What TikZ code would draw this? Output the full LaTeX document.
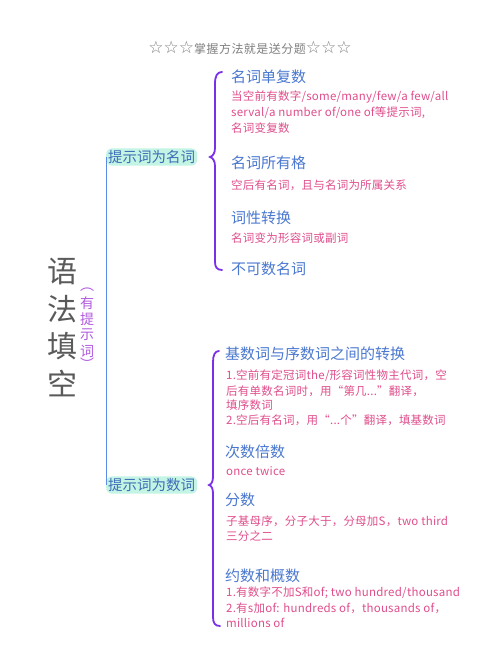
\documentclass[tikz,border=0pt]{standalone}
\usepackage{fontspec}
\setmainfont{Noto Sans CJK SC}
\newfontfamily\pinkfont[LetterSpace=2]{Noto Sans CJK SC}
\newfontfamily\titlefont[LetterSpace=4]{Noto Sans CJK SC}
\newfontfamily\starfont{DejaVu Sans}
\definecolor{headblue}{HTML}{4A78D0}
\definecolor{pinktxt}{HTML}{E04E8C}
\definecolor{branchblue}{HTML}{3C6CB8}
\definecolor{mint}{HTML}{C4F5E4}
\definecolor{bracepurple}{HTML}{7A30E8}
\definecolor{linblue}{HTML}{5B8DE6}
\definecolor{titlegray}{HTML}{5A5A5A}
\definecolor{subpurple}{HTML}{B25BE0}
\tikzset{
  toptitle/.style={font=\titlefont\fontsize{12}{14}\selectfont, text=gray, inner sep=0pt},
  maintitle/.style={font=\fontsize{30}{32}\selectfont, text=titlegray, inner sep=0pt},
  subtitle/.style={font=\fontsize{14}{15}\selectfont, text=subpurple, inner sep=0pt},
  branchlabel/.style={font=\fontsize{14.5}{16}\selectfont, text=branchblue, fill=mint, rounded corners=6pt, inner xsep=2pt, inner ysep=2pt, anchor=west},
  itemhead/.style={font=\fontsize{15}{17}\selectfont, text=headblue, inner sep=0pt, anchor=west},
  itemtext/.style={font=\pinkfont\fontsize{11.5}{13}\selectfont, text=pinktxt, inner sep=0pt, anchor=west},
  bracepath/.style={draw=bracepurple, line width=1.8pt, line cap=round},
  mainline/.style={draw=linblue, line width=1pt}
}
\begin{document}
\begin{tikzpicture}[x=1pt,y=-1pt]
\useasboundingbox[fill=white] (0,0) rectangle (500,652);
\node[toptitle] (title) at (250,48) {{\starfont\fontsize{17}{18}\selectfont ☆☆☆}掌握方法就是送分题{\starfont\fontsize{17}{18}\selectfont ☆☆☆}};
% main title
\node[maintitle] (m1) at (62,272) {语};
\node[maintitle] (m2) at (62,309) {法};
\node[maintitle] (m3) at (62,346) {填};
\node[maintitle] (m4) at (62,383) {空};
\node[subtitle] (s0) at (87,290) {︵};
\node[subtitle] (s1) at (87,303) {有};
\node[subtitle] (s2) at (87,319) {提};
\node[subtitle] (s3) at (87,335) {示};
\node[subtitle] (s4) at (87,351) {词};
\node[subtitle] (s5) at (87,364) {︶};
% branches
\node[branchlabel] (b1) at (106,157) {提示词为名词};
\node[branchlabel] (b2) at (106,485) {提示词为数词};
\draw[mainline] (b1.west) -- (b2.west);
% upper brace
\coordinate (u1) at (222,72);
\coordinate (u2) at (210,157);
\coordinate (u3) at (222,270);
\path[bracepath] (u1) .. controls (217,72) and (215,76) .. (215,84) -- (215,148) .. controls (215,153) and (213,156) .. (u2) .. controls (213,158) and (215,161) .. (215,166) -- (215,262) .. controls (215,267) and (217,270) .. (u3);
% lower brace
\coordinate (l1) at (219,351);
\coordinate (l2) at (209,485);
\coordinate (l3) at (220,626);
\path[bracepath] (l1) .. controls (215,351) and (213,355) .. (213,362) -- (213,476) .. controls (213,481) and (212,484) .. (l2) .. controls (212,486) and (213,489) .. (213,494) -- (213,617) .. controls (213,623) and (215,626) .. (l3);
% upper items
\node[itemhead] (h1) at (231,77) {名词单复数};
\node[itemtext] (t11) at (231,97) {当空前有数字/some/many/few/a few/all};
\node[itemtext] (t12) at (231,113) {serval/a number of/one of等提示词,};
\node[itemtext] (t13) at (231,128) {名词变复数};
\node[itemhead] (h2) at (231,163) {名词所有格};
\node[itemtext] (t21) at (231,185) {空后有名词，且与名词为所属关系};
\node[itemhead] (h3) at (231,218) {词性转换};
\node[itemtext] (t31) at (231,238) {名词变为形容词或副词};
\node[itemhead] (h4) at (231,269) {不可数名词};
% lower items
\node[itemhead] (h5) at (225,354) {基数词与序数词之间的转换};
\node[itemtext] (t51) at (226,376) {1.空前有定冠词the/形容词性物主代词，空};
\node[itemtext] (t52) at (226,391) {后有单数名词时，用“第几...”翻译，};
\node[itemtext] (t53) at (226,405) {填序数词};
\node[itemtext] (t54) at (226,420) {2.空后有名词，用“...个”翻译，填基数词};
\node[itemhead] (h6) at (225,452) {次数倍数};
\node[itemtext] (t61) at (226,471) {once twice};
\node[itemhead] (h7) at (225,500) {分数};
\node[itemtext] (t71) at (226,521) {子基母序，分子大于，分母加S，two third};
\node[itemtext] (t72) at (226,536) {三分之二};
\node[itemhead] (h8) at (225,576) {约数和概数};
\node[itemtext] (t81) at (226,593) {1.有数字不加S和of; two hundred/thousand};
\node[itemtext] (t82) at (226,608) {2.有s加of: hundreds of，thousands of，};
\node[itemtext] (t83) at (226,623) {millions of};
\end{tikzpicture}
\end{document}
